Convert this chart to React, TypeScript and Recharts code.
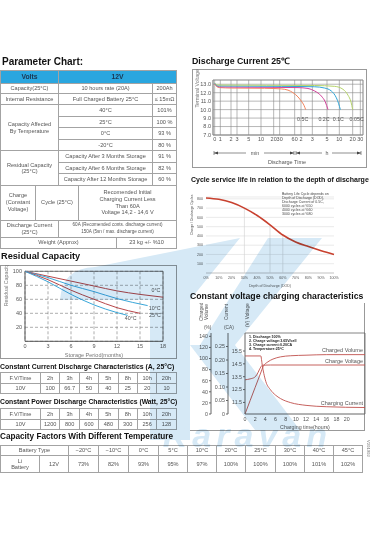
import React from 'react';
import { LineChart, Line, XAxis, YAxis, CartesianGrid, ReferenceLine } from 'recharts';

const FONT = '"Liberation Sans", Arial, Helvetica, sans-serif';
const TXT = '#555';
const RED = '#c0504d';

// parameter chart
const TEMPS = ['40°C', '25°C', '0°C', '-20°C'];
const TEMP_CAPACITY = ['101%', '100 %', '93 %', '80 %'];
const STORAGE = ['Capacity After 3 Months Storage', 'Capacity After 6 Months Storage', 'Capacity After 12 Months Storage'];
const STORAGE_CAPACITY = ['91 %', '82 %', '60 %'];

// discharge tables
const HOURS = ['2h', '3h', '4h', '5h', '8h', '10h', '20h'];
const CURRENT_A = ['100', '66.7', '50', '40', '25', '20', '10'];
const POWER_W = ['1200', '800', '600', '480', '300', '256', '128'];

// capacity factors
const FACTOR_TEMPS = ['−20°C', '−10°C', '0°C', '5°C', '10°C', '20°C', '25°C', '30°C', '40°C', '45°C'];
const FACTORS = ['73%', '82%', '93%', '95%', '97%', '100%', '100%', '100%', '101%', '102%'];

// discharge current 25C: x is the position on the min / h time axis
const DIS_TICKS = [0, 1.7, 4.9, 6.7, 10.2, 13.9, 17.7, 19.5, 24.0, 25.9, 29.3, 33.7, 37.4, 41.4, 43.7];
const DIS_TICK_LABELS = ['0', '1', '2', '3', '5', '10', '20', '30', '60', '2', '3', '5', '10', '20', '30'];
const C05_X = [0, 0.5, 1.5, 5, 15, 20, 22, 23.5, 25, 26, 26.8, 27.3];
const C05_V = [13.0, 12.75, 12.6, 12.55, 12.52, 12.45, 12.3, 12.0, 11.5, 11.0, 10.5, 10.0];
const C02_X = [0, 0.5, 1.5, 10, 25, 28, 30, 32, 33.2, 34];
const C02_V = [13.05, 12.85, 12.68, 12.65, 12.6, 12.5, 12.2, 11.6, 10.9, 10.0];
const C01_X = [0, 1, 20, 30, 33, 35, 36.5, 37.2, 37.7];
const C01_V = [13.1, 12.8, 12.75, 12.7, 12.55, 12.2, 11.4, 10.7, 10.0];
const C005_X = [0, 1, 30, 36, 38.5, 40, 40.9, 41.4];
const C005_V = [13.15, 12.9, 12.85, 12.75, 12.4, 11.7, 10.9, 10.0];

// cycle life
const DOD = [0, 10, 20, 30, 40, 50, 60, 70, 80, 90, 100];
const CYCLES = [810, 795, 760, 700, 620, 520, 410, 335, 285, 240, 200];

// residual capacity
const R0_M = [0, 3, 6, 9, 12, 15, 18];
const R0_V = [100, 93, 86, 79, 72, 67, 63];
const R10_M = [0, 3, 6, 9, 12, 16];
const R10_V = [100, 91, 80, 71, 61, 51];
const R25_M = [0, 3, 6, 9, 12, 15];
const R25_V = [100, 88, 73, 60, 48, 40];
const R40_M = [0, 3, 6, 9, 12, 13.4];
const R40_V = [100, 85, 67, 52, 41, 37];

// constant voltage charging
const VOL_T = [0, 1, 2, 3, 3.6, 4.5, 5.5, 7, 9, 12, 16, 23.6];
const VOL_P = [0, 24, 48, 72, 86, 94, 99, 103, 105, 106, 107, 107];
const VOLT_T = [0, 1, 1.9, 2.4, 2.8, 3.1, 3.45, 5, 23.6];
const VOLT_V = [13.26, 13.33, 13.46, 13.7, 14.03, 14.25, 14.4, 14.41, 14.41];
const CUR_T = [0, 3.1, 3.4, 3.7, 4.1, 5, 6, 7, 9, 12, 16, 23.6];
const CUR_A = [0.215, 0.215, 0.18, 0.15, 0.12, 0.09, 0.07, 0.057, 0.042, 0.032, 0.027, 0.024];

const zip = (xs: number[], ys: number[]) => xs.map((x, i) => ({ x, y: ys[i] }));

const abs = (left: number, top: number, extra: React.CSSProperties = {}): React.CSSProperties => ({
  position: 'absolute',
  left,
  top,
  ...extra,
});

const title = (size: number): React.CSSProperties => ({
  fontFamily: FONT,
  fontWeight: 'bold',
  fontSize: size,
  color: '#111',
  whiteSpace: 'nowrap',
  lineHeight: 1,
});

const td: React.CSSProperties = {
  border: '1px solid #a3a3a3',
  padding: 0,
  textAlign: 'center',
  verticalAlign: 'middle',
  lineHeight: '6.4px',
  whiteSpace: 'nowrap',
  overflow: 'hidden',
};

const tableStyle: React.CSSProperties = {
  borderCollapse: 'collapse',
  tableLayout: 'fixed',
  fontFamily: FONT,
  fontSize: 5.6,
  color: TXT,
};

const tick = (size: number) => ({ fontSize: size, fill: TXT, fontFamily: FONT });

function endLabel(text: string, dx: number, dy: number, last: number) {
  return (props: any) => {
    if (props.index !== last) return null;
    return (
      <text x={props.x + dx} y={props.y + dy} fontSize={5.3} fill={TXT} fontFamily={FONT} textAnchor="middle">
        {text}
      </text>
    );
  };
}

function ParameterTable() {
  const widths = [35, 23, 20, 38, 36, 24];
  const head: React.CSSProperties = { ...td, background: '#2aa6df', color: '#1c3550', fontWeight: 'bold', fontSize: 6.8 };
  return (
    <table style={{ ...tableStyle, width: 176 }}>
      <colgroup>
        {widths.map((w, i) => (
          <col key={i} style={{ width: w }} />
        ))}
      </colgroup>
      <tbody>
        <tr style={{ height: 12.7 }}>
          <td colSpan={2} style={head}>Volts</td>
          <td colSpan={4} style={head}>12V</td>
        </tr>
        <tr style={{ height: 10.6 }}>
          <td colSpan={2} style={td}>Capacity(25°C)</td>
          <td colSpan={3} style={td}>10 hours rate (20A)</td>
          <td style={td}>200Ah</td>
        </tr>
        <tr style={{ height: 10.7 }}>
          <td colSpan={2} style={td}>Internal Resistance</td>
          <td colSpan={3} style={td}>Full Charged Battery 25°C</td>
          <td style={td}>≤ 15mΩ</td>
        </tr>
        {TEMPS.map((t, i) => (
          <tr key={t} style={{ height: 11.6 }}>
            {i === 0 && (
              <td colSpan={2} rowSpan={4} style={td}>
                Capacity Affected
                <br />
                By Temperature
              </td>
            )}
            <td colSpan={3} style={td}>{t}</td>
            <td style={td}>{TEMP_CAPACITY[i]}</td>
          </tr>
        ))}
        {STORAGE.map((s, i) => (
          <tr key={s} style={{ height: 11.4 }}>
            {i === 0 && (
              <td colSpan={2} rowSpan={3} style={td}>
                Residual Capacity
                <br />
                (25°C)
              </td>
            )}
            <td colSpan={3} style={td}>{s}</td>
            <td style={td}>{STORAGE_CAPACITY[i]}</td>
          </tr>
        ))}
        <tr style={{ height: 35 }}>
          <td style={{ ...td, lineHeight: '6.8px' }}>
            Charge
            <br />
            (Constant
            <br />
            Voltage)
          </td>
          <td colSpan={2} style={td}>Cycle (25°C)</td>
          <td colSpan={3} style={{ ...td, lineHeight: '6.8px' }}>
            Recomended Initial
            <br />
            Charging Current Less
            <br />
            Than 60A
            <br />
            Voltage 14,2 - 14,6 V
          </td>
        </tr>
        <tr style={{ height: 17 }}>
          <td colSpan={2} style={td}>
            Discharge Current
            <br />
            (25°C)
          </td>
          <td colSpan={4} style={{ ...td, fontSize: 4.6 }}>
            60A (Recomended conts. discharge current)
            <br />
            150A (5sn / max. discharge current)
          </td>
        </tr>
        <tr style={{ height: 11 }}>
          <td colSpan={4} style={td}>Weight (Approx)</td>
          <td colSpan={2} style={td}>23 kg +/- %10</td>
        </tr>
      </tbody>
    </table>
  );
}

function HoursTable({ label, values }: { label: string; values: string[] }) {
  return (
    <table style={{ ...tableStyle, width: 176 }}>
      <colgroup>
        <col style={{ width: 40 }} />
        {HOURS.map((h) => (
          <col key={h} style={{ width: 19.4 }} />
        ))}
      </colgroup>
      <tbody>
        <tr style={{ height: 11 }}>
          <td style={td}>F.V/Time</td>
          {HOURS.map((h) => (
            <td key={h} style={td}>{h}</td>
          ))}
        </tr>
        <tr style={{ height: 10 }}>
          <td style={td}>{label}</td>
          {values.map((v, i) => (
            <td key={i} style={td}>{v}</td>
          ))}
        </tr>
      </tbody>
    </table>
  );
}

function FactorTable() {
  const widths = [39, 29, 30, 30, 30, 29, 29, 29, 30, 29, 29, 29];
  return (
    <table style={{ ...tableStyle, width: 362 }}>
      <colgroup>
        {widths.map((w, i) => (
          <col key={i} style={{ width: w }} />
        ))}
      </colgroup>
      <tbody>
        <tr style={{ height: 10 }}>
          <td colSpan={2} style={td}>Battery Type</td>
          {FACTOR_TEMPS.map((t) => (
            <td key={t} style={td}>{t}</td>
          ))}
        </tr>
        <tr style={{ height: 17 }}>
          <td style={td}>
            Li
            <br />
            Battery
          </td>
          <td style={td}>12V</td>
          {FACTORS.map((f, i) => (
            <td key={i} style={td}>{f}</td>
          ))}
        </tr>
      </tbody>
    </table>
  );
}

function DischargeChart() {
  const series = [
    { name: '0.5C', x: C05_X, v: C05_V, color: '#f2845c', dx: -3 },
    { name: '0.2C', x: C02_X, v: C02_V, color: '#d2449c', dx: -4 },
    { name: '0.1C', x: C01_X, v: C01_V, color: '#2ea5d8', dx: -2 },
    { name: '0.05C', x: C005_X, v: C005_V, color: '#b6d46c', dx: 4 },
  ];
  return (
    <LineChart width={174} height={98} margin={{ top: 11, right: 3, left: 0, bottom: 0 }}>
      <CartesianGrid stroke="#888" strokeWidth={0.6} />
      <XAxis
        type="number"
        dataKey="x"
        domain={[-0.5, 44.5]}
        ticks={DIS_TICKS}
        interval={0}
        tickFormatter={(v: number) => DIS_TICK_LABELS[DIS_TICKS.indexOf(v)]}
        tick={tick(5.5)}
        tickLine={false}
        tickSize={2}
        tickMargin={0}
        axisLine={{ stroke: '#888' }}
        height={32}
      />
      <YAxis
        type="number"
        domain={[7, 13.5]}
        ticks={[7, 8, 9, 10, 11, 12, 13]}
        interval={0}
        tickFormatter={(v: number) => v.toFixed(1)}
        tick={tick(5.5)}
        tickLine={false}
        tickSize={2}
        tickMargin={0}
        axisLine={{ stroke: '#888' }}
        width={21}
        label={{ value: 'Terminal Voltage(V)', angle: -90, position: 'insideLeft', offset: 5, style: { fontSize: 5.2, fill: '#777', fontFamily: FONT } }}
      />
      <ReferenceLine y={13.5} stroke="#888" strokeWidth={0.6} />
      <ReferenceLine x={44.5} stroke="#888" strokeWidth={0.6} />
      {series.map((s) => (
        <Line
          key={s.name}
          data={zip(s.x, s.v)}
          dataKey="y"
          type="monotone"
          stroke={s.color}
          strokeWidth={1}
          dot={false}
          isAnimationActive={false}
          label={endLabel(s.name, s.dx, 11, s.x.length - 1)}
        />
      ))}
    </LineChart>
  );
}

function CycleChart() {
  const drops = [3, 5, 6];
  return (
    <LineChart width={185} height={105} margin={{ top: 12, right: 41, left: 0, bottom: 0 }}>
      <CartesianGrid vertical={false} stroke="#dcdcdc" strokeWidth={0.6} />
      <XAxis
        type="number"
        dataKey="x"
        domain={[0, 100]}
        ticks={DOD}
        interval={0}
        tickFormatter={(v: number) => `${v}%`}
        tick={tick(3.6)}
        tickLine={false}
        axisLine={{ stroke: '#ccc' }}
        tickSize={2}
        tickMargin={1}
        height={17}
        label={{ value: 'Depth of Discharge (DOD)', position: 'insideBottom', offset: 3, style: { fontSize: 3.6, fill: TXT, fontFamily: FONT } }}
      />
      <YAxis
        type="number"
        domain={[0, 820]}
        ticks={[100, 200, 300, 400, 500, 600, 700, 800]}
        interval={0}
        tick={tick(3.6)}
        tickLine={false}
        axisLine={false}
        tickSize={2}
        tickMargin={1}
        width={16}
        label={{ value: 'Charge / Discharge Cycles', angle: -90, position: 'insideLeft', offset: 2, style: { fontSize: 3.4, fill: TXT, fontFamily: FONT } }}
      />
      {drops.map((i) => (
        <ReferenceLine
          key={i}
          segment={[
            { x: DOD[i], y: 0 },
            { x: DOD[i], y: CYCLES[i] },
          ]}
          stroke="#cfcfcf"
          strokeWidth={0.6}
        />
      ))}
      <Line
        data={zip(DOD, CYCLES)}
        dataKey="y"
        type="monotone"
        stroke="#c8412f"
        strokeWidth={1.6}
        dot={false}
        isAnimationActive={false}
      />
    </LineChart>
  );
}

function ResidualChart() {
  const series = [
    { name: '0°C', x: R0_M, v: R0_V, color: '#b8474a', dx: -7, dy: -5 },
    { name: '10°C', x: R10_M, v: R10_V, color: '#3aa7d9', dx: 7, dy: 4 },
    { name: '25°C', x: R25_M, v: R25_V, color: '#b8474a', dx: 15, dy: 4 },
    { name: '40°C', x: R40_M, v: R40_V, color: '#3aa7d9', dx: 3, dy: 5 },
  ];
  return (
    <LineChart width={176} height={93} margin={{ top: 6.3, right: 13, left: 0, bottom: 0 }}>
      <CartesianGrid stroke="#777" strokeDasharray="3 2" strokeWidth={0.6} />
      <XAxis
        type="number"
        dataKey="x"
        domain={[0, 18]}
        ticks={[0, 3, 6, 9, 12, 15, 18]}
        interval={0}
        tick={tick(5.5)}
        tickLine={false}
        tickSize={2}
        tickMargin={1}
        axisLine={{ stroke: '#555' }}
        height={16.7}
        label={{ value: 'Storage Period(months)', position: 'insideBottom', offset: 1, style: { fontSize: 5.5, fill: '#777', fontFamily: FONT } }}
      />
      <YAxis
        type="number"
        domain={[0, 100]}
        ticks={[20, 40, 60, 80, 100]}
        interval={0}
        tick={tick(5.5)}
        tickLine={false}
        tickSize={2}
        tickMargin={1}
        axisLine={{ stroke: '#555' }}
        width={25}
        label={{ value: 'Residual Capacity(%)', angle: -90, position: 'insideLeft', offset: 6, style: { fontSize: 5.3, fill: '#777', fontFamily: FONT } }}
      />
      <ReferenceLine y={100} stroke="#555" strokeWidth={0.8} />
      <ReferenceLine x={18} stroke="#555" strokeWidth={0.8} />
      {series.map((s) => (
        <Line
          key={s.name}
          data={zip(s.x, s.v)}
          dataKey="y"
          type="monotone"
          stroke={s.color}
          strokeWidth={1}
          dot={false}
          isAnimationActive={false}
          label={endLabel(s.name, s.dx, s.dy, s.x.length - 1)}
        />
      ))}
    </LineChart>
  );
}

function ChargingChart() {
  const axisStyle = { stroke: '#666' };
  // axis ids sort so that "a_volt" sits next to the plot and "c_vol" is outermost
  return (
    <LineChart width={176} height={131} margin={{ top: 33, right: 1, left: 0, bottom: 0 }}>
      <XAxis
        type="number"
        dataKey="x"
        domain={[0, 23.6]}
        ticks={[0, 2, 4, 6, 8, 10, 12, 14, 16, 18, 20]}
        interval={0}
        tick={tick(5.3)}
        tickLine={false}
        tickSize={2}
        tickMargin={1}
        axisLine={axisStyle}
        height={17}
        label={{ value: 'Charging time(hours)', position: 'insideBottom', offset: 2, style: { fontSize: 5.3, fill: TXT, fontFamily: FONT } }}
      />
      <YAxis
        yAxisId="c_vol"
        type="number"
        domain={[0, 146]}
        ticks={[0, 20, 40, 60, 80, 100, 120, 140]}
        interval={0}
        tick={tick(5.3)}
        tickSize={2}
        tickMargin={1}
        tickLine={axisStyle}
        axisLine={axisStyle}
        width={21}
      />
      <YAxis
        yAxisId="b_cur"
        type="number"
        domain={[0, 0.3]}
        ticks={[0, 0.05, 0.1, 0.15, 0.2, 0.25]}
        interval={0}
        tickFormatter={(v: number) => (v === 0 ? '0' : v.toFixed(2))}
        tick={tick(5.3)}
        tickSize={2}
        tickMargin={1}
        tickLine={axisStyle}
        axisLine={axisStyle}
        width={17}
      />
      <YAxis
        yAxisId="a_volt"
        type="number"
        domain={[10.6, 16.9]}
        ticks={[11.5, 12.5, 13.5, 14.5, 15.5]}
        interval={0}
        tickFormatter={(v: number) => v.toFixed(1)}
        tick={tick(5.3)}
        tickSize={2}
        tickMargin={1}
        tickLine={axisStyle}
        axisLine={axisStyle}
        width={17}
      />
      <ReferenceLine yAxisId="a_volt" y={16.9} stroke="#666" strokeWidth={0.8} />
      <ReferenceLine yAxisId="a_volt" x={23.6} stroke="#666" strokeWidth={0.8} />
      <Line yAxisId="c_vol" data={zip(VOL_T, VOL_P)} dataKey="y" type="monotone" stroke={RED} strokeWidth={0.9} dot={false} isAnimationActive={false} />
      <Line yAxisId="a_volt" data={zip(VOLT_T, VOLT_V)} dataKey="y" type="monotone" stroke={RED} strokeWidth={0.9} dot={false} isAnimationActive={false} />
      <Line yAxisId="b_cur" data={zip(CUR_T, CUR_A)} dataKey="y" type="monotone" stroke={RED} strokeWidth={0.9} dot={false} isAnimationActive={false} />
    </LineChart>
  );
}

function Watermark() {
  return (
    <svg width={375} height={535} style={{ position: 'absolute', left: 0, top: 0, pointerEvents: 'none', mixBlendMode: 'multiply' }}>
      <g fill="#d6e9f6">
        <path d="M60,300 Q62,268 95,267 L240,238 L190,300 L190,440 L150,440 L150,300 Z" />
        <polygon points="268,238 322,238 235,345 200,345" />
        <polygon points="190,345 235,345 300,430 255,430" />
      </g>
      <text x={332} y={447} fontSize={34} fontStyle="italic" fontWeight="bold" fontFamily={FONT} fill="#d6e9f6" textAnchor="end" letterSpacing={5}>
        Karavan
      </text>
    </svg>
  );
}

export default function App() {
  return (
    <div style={{ position: 'absolute', left: 0, top: 0, width: 375, height: 535, background: '#fff', overflow: 'hidden' }}>
      <div style={abs(2, 57, title(10))}>Parameter Chart:</div>
      <div style={abs(0, 70)}>
        <ParameterTable />
      </div>

      <div style={abs(1, 252, title(9.2))}>Residual Capacity</div>
      <div style={abs(0, 265, { width: 175, height: 92, border: '1px solid #999' })} />
      <div style={abs(0, 265)}>
        <ResidualChart />
      </div>

      <div style={abs(0, 363.5, title(6.9))}>Constant Current Discharge Characteristics (A, 25°C)</div>
      <div style={abs(0, 372)}>
        <HoursTable label="10V" values={CURRENT_A} />
      </div>
      <div style={abs(0, 398.5, title(6.8))}>Constant Power Discharge Characteristics (Watt, 25°C)</div>
      <div style={abs(0, 408)}>
        <HoursTable label="10V" values={POWER_W} />
      </div>
      <div style={abs(0, 432.5, title(8.2))}>Capacity Factors With Different Temperature</div>
      <div style={abs(0, 445)}>
        <FactorTable />
      </div>

      <div style={abs(192, 57, title(8.8))}>Discharge Current 25℃</div>
      <div style={abs(192, 69, { width: 173, height: 97, border: '1px solid #999' })} />
      <div style={abs(192, 69)}>
        <DischargeChart />
      </div>
      <svg width={174} height={24} style={{ position: 'absolute', left: 192, top: 146 }}>
        <g stroke="#444" strokeWidth={0.6} fill="#444">
          <line x1={22} y1={7} x2={102} y2={7} />
          <line x1={104} y1={7} x2={169} y2={7} />
          <line x1={22} y1={5} x2={22} y2={9} />
          <line x1={102} y1={5} x2={102} y2={9} />
          <line x1={104} y1={5} x2={104} y2={9} />
          <line x1={169} y1={5} x2={169} y2={9} />
          <polygon points="22,7 26,5.6 26,8.4" stroke="none" />
          <polygon points="102,7 98,5.6 98,8.4" stroke="none" />
          <polygon points="104,7 108,5.6 108,8.4" stroke="none" />
          <polygon points="169,7 165,5.6 165,8.4" stroke="none" />
        </g>
        <rect x={54} y={3} width={18} height={8} fill="#fff" />
        <rect x={130} y={3} width={10} height={8} fill="#fff" />
        <text x={63} y={9} fontSize={5.3} fill={TXT} fontFamily={FONT} textAnchor="middle">min</text>
        <text x={135} y={9} fontSize={5.3} fill={TXT} fontFamily={FONT} textAnchor="middle">h</text>
        <text x={95} y={18} fontSize={5.5} fill={TXT} fontFamily={FONT} textAnchor="middle">Discharge Time</text>
      </svg>

      <div style={abs(191, 176, title(7))}>Cycle service life in relation to the depth of discharge</div>
      <div style={abs(190, 185)}>
        <CycleChart />
      </div>
      <div style={abs(282, 192, { fontFamily: FONT, fontSize: 3.5, lineHeight: '4.1px', color: '#444', whiteSpace: 'nowrap' })}>
        Battery Life Cycle depends on
        <br />
        Depth of Discharge (DOD),
        <br />
        Discharge Current of 0.5C,
        <br />
        6000 cycles at %50
        <br />
        4000 cycles at %60
        <br />
        3000 cycles at %80
      </div>

      <div style={abs(190, 291.5, title(8.7))}>Constant voltage charging characteristics</div>
      <div style={abs(190, 303, { width: 174, height: 127, borderRight: '1px solid #999', borderBottom: '1px solid #999' })} />
      <div style={abs(190, 300)}>
        <ChargingChart />
      </div>
      <div style={abs(199, 301, { ...title(4.8), fontWeight: 'normal', color: TXT, writingMode: 'vertical-rl', transform: 'rotate(180deg)', lineHeight: '5px', textAlign: 'center', height: 22 })}>
        Charged
        <br />
        Volume
      </div>
      <div style={abs(204, 325, { fontFamily: FONT, fontSize: 4.8, color: TXT })}>(%)</div>
      <div style={abs(225, 302, { ...title(4.8), fontWeight: 'normal', color: TXT, writingMode: 'vertical-rl', transform: 'rotate(180deg)', textAlign: 'center', height: 20 })}>
        Current
      </div>
      <div style={abs(224, 325, { fontFamily: FONT, fontSize: 4.8, color: TXT })}>(CA)</div>
      <div style={abs(246, 302, { ...title(4.8), fontWeight: 'normal', color: TXT, writingMode: 'vertical-rl', transform: 'rotate(180deg)', textAlign: 'center', height: 26 })}>
        (V) Voltage
      </div>
      <div style={abs(249, 335, { fontFamily: FONT, fontSize: 3.6, lineHeight: '4.1px', color: '#222', whiteSpace: 'nowrap', fontWeight: 'bold' })}>
        1. Discharge:100%
        <br />
        2. Charge voltage:3.65V/cell
        <br />
        3. Charge current:0.20CA
        <br />
        4. Temperature:25°C
      </div>
      <div style={abs(305, 347, { fontFamily: FONT, fontSize: 5.5, color: TXT, width: 58, textAlign: 'right' })}>Charged Volume</div>
      <div style={abs(305, 358, { fontFamily: FONT, fontSize: 5.5, color: TXT, width: 58, textAlign: 'right' })}>Charge Voltage</div>
      <div style={abs(300, 400, { fontFamily: FONT, fontSize: 5.5, color: TXT, width: 63, textAlign: 'right' })}>Charging Current</div>

      <div style={abs(366, 440, { fontFamily: FONT, fontSize: 4.2, color: '#777', writingMode: 'vertical-rl' })}>V201902</div>

      <Watermark />
    </div>
  );
}
